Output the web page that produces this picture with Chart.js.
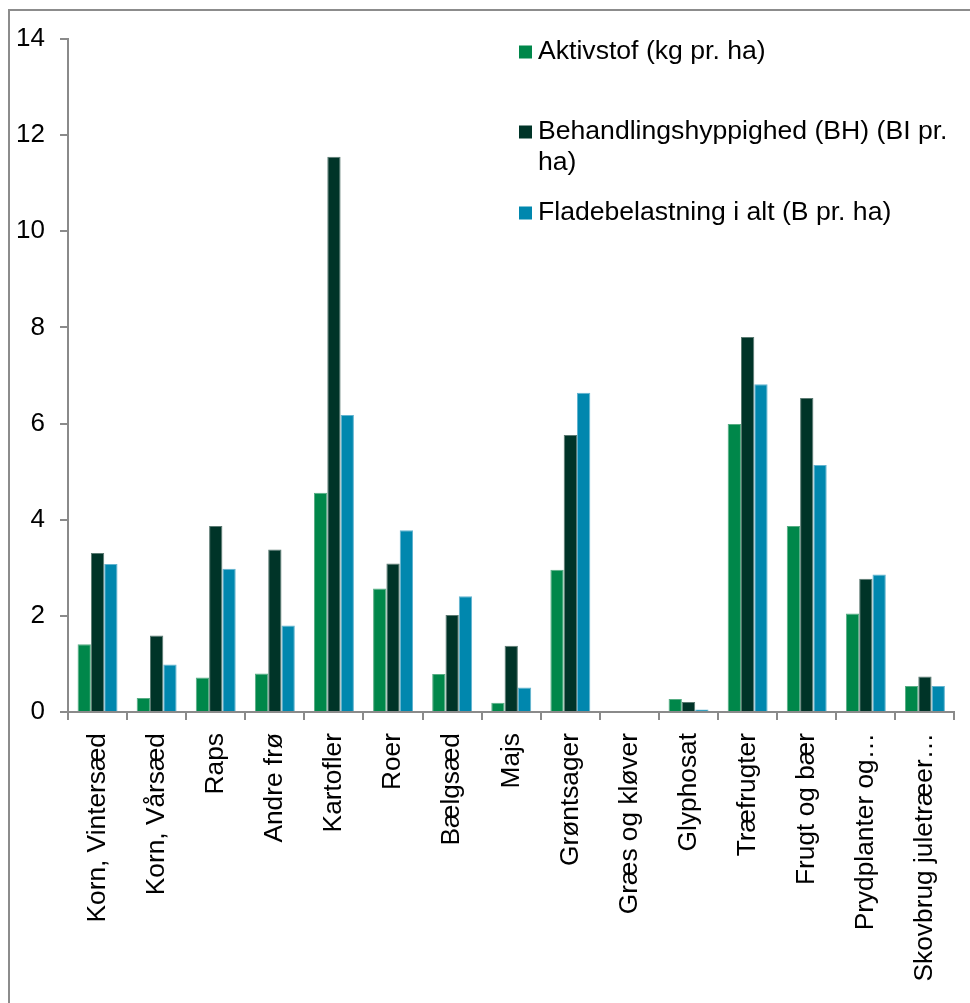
<!DOCTYPE html>
<html>
<head>
<meta charset="utf-8">
<script src="https://cdn.jsdelivr.net/npm/chart.js@4/dist/chart.umd.min.js"></script>
<style>
  html, body { margin: 0; padding: 0; background: #ffffff; }
  #wrap { position: relative; width: 970px; height: 1003px; }
</style>
</head>
<body>
<div id="wrap"><canvas id="c" width="970" height="1003"></canvas></div>
<script>
// Afgrøder / kategorier
const categories = [
  'Korn, Vintersæd', 'Korn, Vårsæd', 'Raps', 'Andre frø', 'Kartofler', 'Roer',
  'Bælgsæd', 'Majs', 'Grøntsager', 'Græs og kløver', 'Glyphosat', 'Træfrugter',
  'Frugt og bær', 'Prydplanter og…', 'Skovbrug juletræer…'
];

// Aktivstof (kg pr. ha)
const aktivstof = [1.41, 0.29, 0.72, 0.80, 4.56, 2.57, 0.79, 0.19, 2.96, 0, 0.27, 5.99, 3.87, 2.05, 0.54];
// Behandlingshyppighed (BH) (BI pr. ha)
const behandlingshyppighed = [3.31, 1.59, 3.87, 3.38, 11.55, 3.09, 2.02, 1.38, 5.76, 0, 0.21, 7.80, 6.53, 2.77, 0.74];
// Fladebelastning i alt (B pr. ha)
const fladebelastning = [3.08, 0.99, 2.98, 1.80, 6.18, 3.78, 2.41, 0.51, 6.64, 0, 0.05, 6.82, 5.14, 2.86, 0.54];

const yTicks = [0, 2, 4, 6, 8, 10, 12, 14];

const seriesNames = [
  'Aktivstof (kg pr. ha)',
  'Behandlingshyppighed (BH) (BI pr. ha)',
  'Fladebelastning i alt (B pr. ha)'
];

const FONT = '"Liberation Sans", Arial, sans-serif';
const AXIS_GREY = '#8a8a8a';

// Grey frame along the top and left edge
const framePlugin = {
  id: 'frame',
  beforeDraw(chart) {
    const ctx = chart.ctx;
    ctx.save();
    ctx.strokeStyle = '#8c8c8c';
    ctx.lineWidth = 2;
    ctx.beginPath();
    ctx.moveTo(9, 1003);
    ctx.lineTo(9, 10);
    ctx.lineTo(970, 10);
    ctx.stroke();
    ctx.restore();
  }
};

// Legend with word-wrapped entries, placed inside the plot area
const wrapLegendPlugin = {
  id: 'wrapLegend',
  afterDraw(chart, args, opts) {
    const ctx = chart.ctx;
    ctx.save();
    ctx.font = opts.fontSize + 'px ' + FONT;
    ctx.textBaseline = 'middle';
    ctx.textAlign = 'left';
    chart.data.datasets.forEach((ds, i) => {
      const y0 = opts.rowY[i];
      ctx.fillStyle = ds.backgroundColor;
      ctx.fillRect(opts.boxX, y0 - opts.box / 2, opts.box, opts.box);
      // simple word wrap
      const words = ds.label.split(' ');
      const lines = [];
      let cur = '';
      words.forEach(w => {
        const test = cur ? cur + ' ' + w : w;
        if (ctx.measureText(test).width > opts.maxWidth && cur) {
          lines.push(cur);
          cur = w;
        } else {
          cur = test;
        }
      });
      if (cur) lines.push(cur);
      ctx.fillStyle = '#000000';
      lines.forEach((ln, k) => {
        ctx.fillText(ln, opts.textX, y0 + k * opts.lineHeight);
      });
    });
    ctx.restore();
  }
};

const colors = ['#00874a', '#003428', '#0087ae'];
const edgeColors = ['#57ad84', '#5b7a72', '#62b3cf'];

new Chart(document.getElementById('c'), {
  type: 'bar',
  data: {
    labels: categories,
    datasets: [aktivstof, behandlingshyppighed, fladebelastning].map((vals, i) => ({
      label: seriesNames[i],
      data: vals,
      backgroundColor: colors[i],
      borderColor: edgeColors[i],
      borderWidth: 1,
      borderSkipped: 'start',
      categoryPercentage: 0.676,
      barPercentage: 1.0
    }))
  },
  options: {
    responsive: false,
    devicePixelRatio: 1,
    animation: false,
    layout: { padding: { left: 0, right: 15, top: 39, bottom: 0 } },
    plugins: {
      legend: { display: false },
      tooltip: { enabled: false },
      wrapLegend: {
        fontSize: 26.6,
        box: 13,
        boxX: 519,
        textX: 538,
        maxWidth: 417,
        lineHeight: 31,
        rowY: [52, 132, 213]
      }
    },
    scales: {
      x: {
        grid: {
          display: true,
          offset: true,
          drawOnChartArea: false,
          drawTicks: true,
          tickLength: 8,
          color: AXIS_GREY,
          lineWidth: 2
        },
        border: { display: true, color: AXIS_GREY, width: 2 },
        ticks: {
          autoSkip: false,
          maxRotation: 90,
          minRotation: 90,
          padding: 13,
          color: '#000000',
          font: { family: FONT, size: 26.3 }
        },
        afterFit(scale) { scale.height = 291; }
      },
      y: {
        min: 0,
        max: 14,
        afterBuildTicks(scale) { scale.ticks = yTicks.map(v => ({ value: v })); },
        grid: {
          display: true,
          drawOnChartArea: false,
          drawTicks: true,
          tickLength: 8,
          color: AXIS_GREY,
          lineWidth: 2
        },
        border: { display: true, color: AXIS_GREY, width: 2 },
        ticks: {
          padding: 15,
          color: '#000000',
          font: { family: FONT, size: 26 }
        },
        afterFit(scale) { scale.width = 68; }
      }
    }
  },
  plugins: [framePlugin, wrapLegendPlugin]
});
</script>
</body>
</html>
